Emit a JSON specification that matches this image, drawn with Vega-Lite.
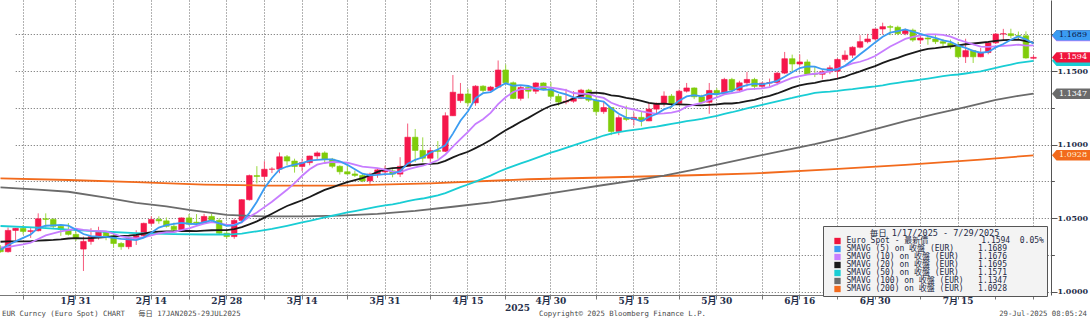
{
"$schema":"https://vega.github.io/schema/vega-lite/v6.json",
"width":1051,"height":295,
"autosize":{"type":"none"},
"padding":{"left":0,"top":0,"right":39,"bottom":23},
"background":"#ffffff",
"config":{"view":{"stroke":null}},
"resolve":{"axis":{"x":"independent","y":"independent"},"legend":{"color":"independent"}},
"datasets":{"eur":[
{"d":"2025-01-17","o":1.0300,"h":1.0316,"l":1.0266,"c":1.0272,"s5":1.02834,"s10":1.03012,"s20":1.03397,"s50":1.0447,"s100":1.0710,"s200":1.0771},
{"d":"2025-01-20","o":1.0272,"h":1.0437,"l":1.0266,"c":1.0417,"s5":1.03178,"s10":1.0304,"s20":1.03424},
{"d":"2025-01-21","o":1.0417,"h":1.0433,"l":1.0345,"c":1.0431,"s5":1.03424,"s10":1.03128,"s20":1.03424},
{"d":"2025-01-22","o":1.0431,"h":1.0454,"l":1.0390,"c":1.0410,"s5":1.0366,"s10":1.03218,"s20":1.03426},
{"d":"2025-01-23","o":1.0410,"h":1.0435,"l":1.0366,"c":1.0415,"s5":1.0389,"s10":1.03333,"s20":1.03433},
{"d":"2025-01-24","o":1.0415,"h":1.0533,"l":1.0410,"c":1.0496,"s5":1.04338,"s10":1.03586,"s20":1.0347,"s50":1.0436,"s100":1.0695},
{"d":"2025-01-27","o":1.0496,"h":1.0533,"l":1.0436,"c":1.0492,"s5":1.04488,"s10":1.03833,"s20":1.03502},
{"d":"2025-01-28","o":1.0492,"h":1.0500,"l":1.0430,"c":1.0445,"s5":1.04516,"s10":1.0397,"s20":1.03522},
{"d":"2025-01-29","o":1.0445,"h":1.0460,"l":1.0380,"c":1.0423,"s5":1.04542,"s10":1.04101,"s20":1.03557},
{"d":"2025-01-30","o":1.0423,"h":1.0467,"l":1.0382,"c":1.0390,"s5":1.04492,"s10":1.04191,"s20":1.03619,"s50":1.0422,"s100":1.0680,"s200":1.0760},
{"d":"2025-01-31","o":1.0390,"h":1.0413,"l":1.0345,"c":1.0362,"s5":1.04224,"s10":1.04281,"s20":1.03647},
{"d":"2025-02-03","o":1.0290,"h":1.0375,"l":1.0141,"c":1.0342,"s5":1.03924,"s10":1.04206,"s20":1.03623},
{"d":"2025-02-04","o":1.0342,"h":1.0432,"l":1.0320,"c":1.0375,"s5":1.03784,"s10":1.0415,"s20":1.03639},
{"d":"2025-02-05","o":1.0375,"h":1.0442,"l":1.0355,"c":1.0405,"s5":1.03748,"s10":1.04145,"s20":1.03682},
{"d":"2025-02-06","o":1.0405,"h":1.0413,"l":1.0350,"c":1.0380,"s5":1.03728,"s10":1.0411,"s20":1.03722,"s50":1.0408,"s100":1.0640},
{"d":"2025-02-07","o":1.0380,"h":1.0412,"l":1.0300,"c":1.0328,"s5":1.0366,"s10":1.03942,"s20":1.03764},
{"d":"2025-02-10","o":1.0328,"h":1.0337,"l":1.0285,"c":1.0306,"s5":1.03588,"s10":1.03756,"s20":1.03795},
{"d":"2025-02-11","o":1.0306,"h":1.0373,"l":1.0289,"c":1.0361,"s5":1.0356,"s10":1.03672,"s20":1.03821},
{"d":"2025-02-12","o":1.0361,"h":1.0418,"l":1.0318,"c":1.0381,"s5":1.03512,"s10":1.0363,"s20":1.03866,"s50":1.0399,"s100":1.0605,"s200":1.0746},
{"d":"2025-02-13","o":1.0381,"h":1.0470,"l":1.0372,"c":1.0465,"s5":1.03682,"s10":1.03705,"s20":1.03948},
{"d":"2025-02-14","o":1.0465,"h":1.0514,"l":1.0450,"c":1.0492,"s5":1.0401,"s10":1.03835,"s20":1.04058},
{"d":"2025-02-17","o":1.0492,"h":1.0513,"l":1.0462,"c":1.0482,"s5":1.04362,"s10":1.03975,"s20":1.04091},
{"d":"2025-02-18","o":1.0482,"h":1.0505,"l":1.0436,"c":1.0445,"s5":1.0453,"s10":1.04045,"s20":1.04098,"s100":1.0580},
{"d":"2025-02-19","o":1.0445,"h":1.0470,"l":1.0402,"c":1.0422,"s5":1.04612,"s10":1.04062,"s20":1.04104,"s50":1.0392},
{"d":"2025-02-20","o":1.0422,"h":1.0505,"l":1.0417,"c":1.0502,"s5":1.04686,"s10":1.04184,"s20":1.04147},
{"d":"2025-02-21","o":1.0502,"h":1.0528,"l":1.0450,"c":1.0460,"s5":1.04622,"s10":1.04316,"s20":1.04129,"s100":1.0556},
{"d":"2025-02-24","o":1.0473,"h":1.0528,"l":1.0455,"c":1.0467,"s5":1.04592,"s10":1.04477,"s20":1.04117},
{"d":"2025-02-25","o":1.0467,"h":1.0530,"l":1.0460,"c":1.0512,"s5":1.04726,"s10":1.04628,"s20":1.0415,"s50":1.0389,"s200":1.0729},
{"d":"2025-02-26","o":1.0512,"h":1.0530,"l":1.0471,"c":1.0485,"s5":1.04852,"s10":1.04732,"s20":1.04181},
{"d":"2025-02-27","o":1.0485,"h":1.0500,"l":1.0392,"c":1.0398,"s5":1.04644,"s10":1.04665,"s20":1.04185},
{"d":"2025-02-28","o":1.0398,"h":1.0420,"l":1.0360,"c":1.0375,"s5":1.04474,"s10":1.04548,"s20":1.04192,"s50":1.03892,"s100":1.0522},
{"d":"2025-03-03","o":1.0375,"h":1.0498,"l":1.0360,"c":1.0485,"s5":1.0451,"s10":1.04551,"s20":1.04263,"s50":1.03916},
{"d":"2025-03-04","o":1.0485,"h":1.0630,"l":1.0465,"c":1.0626,"s5":1.04738,"s10":1.04732,"s20":1.04389,"s50":1.03955},
{"d":"2025-03-05","o":1.0626,"h":1.0797,"l":1.0620,"c":1.0790,"s5":1.05348,"s10":1.051,"s20":1.04581,"s50":1.04032},
{"d":"2025-03-06","o":1.0790,"h":1.0854,"l":1.0736,"c":1.0784,"s5":1.0612,"s10":1.05382,"s20":1.04783,"s50":1.04108},
{"d":"2025-03-07","o":1.0784,"h":1.0888,"l":1.0760,"c":1.0833,"s5":1.07036,"s10":1.05755,"s20":1.05036,"s50":1.04191,"s100":1.0512,"s200":1.0722},
{"d":"2025-03-10","o":1.0833,"h":1.0847,"l":1.0807,"c":1.0834,"s5":1.07734,"s10":1.06122,"s20":1.053,"s50":1.04272},
{"d":"2025-03-11","o":1.0834,"h":1.0947,"l":1.0806,"c":1.0918,"s5":1.08318,"s10":1.06528,"s20":1.05578,"s50":1.04374},
{"d":"2025-03-12","o":1.0918,"h":1.0930,"l":1.0860,"c":1.0889,"s5":1.08516,"s10":1.06932,"s20":1.05832,"s50":1.04481},
{"d":"2025-03-13","o":1.0889,"h":1.0905,"l":1.0810,"c":1.0852,"s5":1.08652,"s10":1.07386,"s20":1.06026,"s50":1.04599},
{"d":"2025-03-14","o":1.0852,"h":1.0906,"l":1.0820,"c":1.0878,"s5":1.08742,"s10":1.07889,"s20":1.06219,"s50":1.04713,"s100":1.0512},
{"d":"2025-03-17","o":1.0878,"h":1.0925,"l":1.0860,"c":1.0923,"s5":1.0892,"s10":1.08327,"s20":1.06439,"s50":1.0482},
{"d":"2025-03-18","o":1.0923,"h":1.0955,"l":1.0895,"c":1.0944,"s5":1.08972,"s10":1.08645,"s20":1.06689,"s50":1.0494},
{"d":"2025-03-19","o":1.0944,"h":1.0955,"l":1.0870,"c":1.0901,"s5":1.08996,"s10":1.08756,"s20":1.06928,"s50":1.05056},
{"d":"2025-03-20","o":1.0901,"h":1.0910,"l":1.0840,"c":1.0853,"s5":1.08998,"s10":1.08825,"s20":1.07104,"s50":1.05167},
{"d":"2025-03-21","o":1.0853,"h":1.0860,"l":1.0797,"c":1.0816,"s5":1.08874,"s10":1.08808,"s20":1.07282,"s50":1.05281,"s100":1.0518,"s200":1.0722},
{"d":"2025-03-24","o":1.0816,"h":1.0860,"l":1.0797,"c":1.0801,"s5":1.0863,"s10":1.08775,"s20":1.07449,"s50":1.05393},
{"d":"2025-03-25","o":1.0801,"h":1.0824,"l":1.0780,"c":1.0791,"s5":1.08324,"s10":1.08648,"s20":1.07588,"s50":1.05489},
{"d":"2025-03-26","o":1.0791,"h":1.0805,"l":1.0745,"c":1.0754,"s5":1.0803,"s10":1.08513,"s20":1.07723,"s50":1.05582},
{"d":"2025-03-27","o":1.0754,"h":1.0810,"l":1.0733,"c":1.0800,"s5":1.07924,"s10":1.08461,"s20":1.07924,"s50":1.05682},
{"d":"2025-03-28","o":1.0800,"h":1.0838,"l":1.0775,"c":1.0829,"s5":1.0795,"s10":1.08412,"s20":1.08151,"s50":1.05793,"s100":1.0530},
{"d":"2025-03-31","o":1.0815,"h":1.0858,"l":1.0790,"c":1.0822,"s5":1.07992,"s10":1.08311,"s20":1.08319,"s50":1.05874},
{"d":"2025-04-01","o":1.0822,"h":1.0833,"l":1.0778,"c":1.0800,"s5":1.0801,"s10":1.08167,"s20":1.08406,"s50":1.05948},
{"d":"2025-04-02","o":1.0800,"h":1.0915,"l":1.0780,"c":1.0853,"s5":1.08208,"s10":1.08119,"s20":1.08438,"s50":1.06036},
{"d":"2025-04-03","o":1.0853,"h":1.1144,"l":1.0850,"c":1.1051,"s5":1.0871,"s10":1.08317,"s20":1.08571,"s50":1.06164},
{"d":"2025-04-04","o":1.1051,"h":1.1107,"l":1.0881,"c":1.0961,"s5":1.08974,"s10":1.08462,"s20":1.08635,"s50":1.06257,"s100":1.0550},
{"d":"2025-04-07","o":1.0961,"h":1.1050,"l":1.0880,"c":1.0908,"s5":1.09146,"s10":1.08569,"s20":1.08672,"s50":1.0634},
{"d":"2025-04-08","o":1.0908,"h":1.0980,"l":1.0880,"c":1.0960,"s5":1.09466,"s10":1.08738,"s20":1.08693,"s50":1.06443,"s200":1.0737},
{"d":"2025-04-09","o":1.0960,"h":1.1025,"l":1.0905,"c":1.0955,"s5":1.0967,"s10":1.08939,"s20":1.08726,"s50":1.06549},
{"d":"2025-04-10","o":1.0955,"h":1.1220,"l":1.0950,"c":1.1197,"s5":1.09962,"s10":1.09336,"s20":1.08899,"s50":1.06711},
{"d":"2025-04-11","o":1.1197,"h":1.1474,"l":1.1195,"c":1.1357,"s5":1.10754,"s10":1.09864,"s20":1.09138,"s50":1.0691,"s100":1.0578},
{"d":"2025-04-14","o":1.1300,"h":1.1420,"l":1.1285,"c":1.1345,"s5":1.11628,"s10":1.10387,"s20":1.09349,"s50":1.0711},
{"d":"2025-04-15","o":1.1345,"h":1.1380,"l":1.1265,"c":1.1285,"s5":1.12278,"s10":1.10872,"s20":1.0952,"s50":1.07292},
{"d":"2025-04-16","o":1.1285,"h":1.1405,"l":1.1265,"c":1.1398,"s5":1.13164,"s10":1.11417,"s20":1.09768,"s50":1.07491},
{"d":"2025-04-17","o":1.1398,"h":1.1405,"l":1.1355,"c":1.1369,"s5":1.13508,"s10":1.11735,"s20":1.10026,"s50":1.07689},
{"d":"2025-04-18","o":1.1369,"h":1.1400,"l":1.1365,"c":1.1392,"s5":1.13578,"s10":1.12166,"s20":1.10314,"s50":1.07901,"s100":1.0608},
{"d":"2025-04-21","o":1.1392,"h":1.1573,"l":1.1385,"c":1.1508,"s5":1.13904,"s10":1.12766,"s20":1.10668,"s50":1.08142},
{"d":"2025-04-22","o":1.1508,"h":1.1545,"l":1.1405,"c":1.1421,"s5":1.14176,"s10":1.13227,"s20":1.10983,"s50":1.08354},
{"d":"2025-04-23","o":1.1421,"h":1.1430,"l":1.1310,"c":1.1315,"s5":1.1401,"s10":1.13587,"s20":1.11263,"s50":1.08541},
{"d":"2025-04-24","o":1.1315,"h":1.1400,"l":1.1300,"c":1.1389,"s5":1.1405,"s10":1.13779,"s20":1.11558,"s50":1.08725},
{"d":"2025-04-25","o":1.1389,"h":1.1395,"l":1.1315,"c":1.1364,"s5":1.13994,"s10":1.13786,"s20":1.11825,"s50":1.089,"s100":1.0646,"s200":1.0765},
{"d":"2025-04-28","o":1.1364,"h":1.1425,"l":1.1345,"c":1.1420,"s5":1.13818,"s10":1.13861,"s20":1.12124,"s50":1.09087},
{"d":"2025-04-29","o":1.1420,"h":1.1425,"l":1.1370,"c":1.1378,"s5":1.13732,"s10":1.13954,"s20":1.12413,"s50":1.09274},
{"d":"2025-04-30","o":1.1378,"h":1.1425,"l":1.1310,"c":1.1329,"s5":1.1376,"s10":1.13885,"s20":1.12651,"s50":1.09455},
{"d":"2025-05-01","o":1.1329,"h":1.1345,"l":1.1265,"c":1.1291,"s5":1.13564,"s10":1.13807,"s20":1.12771,"s50":1.09613},
{"d":"2025-05-02","o":1.1291,"h":1.1380,"l":1.1275,"c":1.1296,"s5":1.13428,"s10":1.13711,"s20":1.12939,"s50":1.0978,"s100":1.0686},
{"d":"2025-05-05","o":1.1296,"h":1.1365,"l":1.1285,"c":1.1315,"s5":1.13218,"s10":1.13518,"s20":1.13142,"s50":1.0995},
{"d":"2025-05-06","o":1.1315,"h":1.1380,"l":1.1310,"c":1.1371,"s5":1.13204,"s10":1.13468,"s20":1.13348,"s50":1.10122},
{"d":"2025-05-07","o":1.1371,"h":1.1380,"l":1.1290,"c":1.1303,"s5":1.13152,"s10":1.13456,"s20":1.13522,"s50":1.10285},
{"d":"2025-05-08","o":1.1303,"h":1.1325,"l":1.1200,"c":1.1225,"s5":1.1302,"s10":1.13292,"s20":1.13536,"s50":1.10451},
{"d":"2025-05-09","o":1.1225,"h":1.1290,"l":1.1210,"c":1.1253,"s5":1.12934,"s10":1.13181,"s20":1.13484,"s50":1.10626,"s100":1.07259,"s200":1.0777},
{"d":"2025-05-12","o":1.1253,"h":1.1255,"l":1.1065,"c":1.1090,"s5":1.12484,"s10":1.12851,"s20":1.13356,"s50":1.10747},
{"d":"2025-05-13","o":1.1090,"h":1.1200,"l":1.1065,"c":1.1184,"s5":1.1211,"s10":1.12657,"s20":1.13306,"s50":1.10859},
{"d":"2025-05-14","o":1.1184,"h":1.1266,"l":1.1160,"c":1.1172,"s5":1.11848,"s10":1.125,"s20":1.13193,"s50":1.10935},
{"d":"2025-05-15","o":1.1172,"h":1.1218,"l":1.1130,"c":1.1186,"s5":1.1177,"s10":1.12395,"s20":1.13101,"s50":1.11016,"s100":1.07562},
{"d":"2025-05-16","o":1.1186,"h":1.1225,"l":1.1125,"c":1.1162,"s5":1.11588,"s10":1.12261,"s20":1.12986,"s50":1.11082},
{"d":"2025-05-19","o":1.1162,"h":1.1288,"l":1.1160,"c":1.1242,"s5":1.11892,"s10":1.12188,"s20":1.12853,"s50":1.11163},
{"d":"2025-05-20","o":1.1242,"h":1.1287,"l":1.1210,"c":1.1281,"s5":1.12086,"s10":1.12098,"s20":1.12783,"s50":1.11236},
{"d":"2025-05-21","o":1.1281,"h":1.1363,"l":1.1260,"c":1.1331,"s5":1.12404,"s10":1.12126,"s20":1.12791,"s50":1.11324,"s100":1.07903},
{"d":"2025-05-22","o":1.1331,"h":1.1345,"l":1.1250,"c":1.1281,"s5":1.12594,"s10":1.12182,"s20":1.12737,"s50":1.1141},
{"d":"2025-05-23","o":1.1281,"h":1.1375,"l":1.1275,"c":1.1364,"s5":1.12998,"s10":1.12293,"s20":1.12737,"s50":1.11507},
{"d":"2025-05-26","o":1.1364,"h":1.1420,"l":1.1355,"c":1.1386,"s5":1.13286,"s10":1.12589,"s20":1.1272,"s50":1.116},
{"d":"2025-05-27","o":1.1386,"h":1.1390,"l":1.1310,"c":1.1326,"s5":1.13376,"s10":1.12731,"s20":1.12694,"s50":1.11676,"s100":1.08308},
{"d":"2025-05-28","o":1.1326,"h":1.1340,"l":1.1280,"c":1.1289,"s5":1.13292,"s10":1.12848,"s20":1.12674,"s50":1.11754,"s200":1.0794},
{"d":"2025-05-29","o":1.1289,"h":1.1420,"l":1.1210,"c":1.1369,"s5":1.13468,"s10":1.13031,"s20":1.12713,"s50":1.11857},
{"d":"2025-05-30","o":1.1369,"h":1.1385,"l":1.1320,"c":1.1347,"s5":1.13434,"s10":1.13216,"s20":1.12739,"s50":1.11963},
{"d":"2025-06-02","o":1.1347,"h":1.1455,"l":1.1345,"c":1.1444,"s5":1.1355,"s10":1.13418,"s20":1.12803,"s50":1.12092,"s100":1.08742},
{"d":"2025-06-03","o":1.1444,"h":1.1455,"l":1.1355,"c":1.1371,"s5":1.1364,"s10":1.13508,"s20":1.12803,"s50":1.12208},
{"d":"2025-06-04","o":1.1371,"h":1.1435,"l":1.1360,"c":1.1421,"s5":1.13904,"s10":1.13598,"s20":1.12862,"s50":1.12341},
{"d":"2025-06-05","o":1.1421,"h":1.1495,"l":1.1395,"c":1.1444,"s5":1.14054,"s10":1.13761,"s20":1.12972,"s50":1.1247},
{"d":"2025-06-06","o":1.1444,"h":1.1455,"l":1.1375,"c":1.1397,"s5":1.14154,"s10":1.13794,"s20":1.13044,"s50":1.12584,"s100":1.09188,"s200":1.0805},
{"d":"2025-06-09","o":1.1397,"h":1.1425,"l":1.1380,"c":1.1419,"s5":1.14104,"s10":1.13827,"s20":1.13208,"s50":1.12703},
{"d":"2025-06-10","o":1.1419,"h":1.1450,"l":1.1395,"c":1.1423,"s5":1.14208,"s10":1.13924,"s20":1.13328,"s50":1.12828},
{"d":"2025-06-11","o":1.1423,"h":1.1495,"l":1.1405,"c":1.1487,"s5":1.1434,"s10":1.14122,"s20":1.13485,"s50":1.12954},
{"d":"2025-06-12","o":1.1487,"h":1.1631,"l":1.1480,"c":1.1585,"s5":1.14622,"s10":1.14338,"s20":1.13685,"s50":1.13061,"s100":1.09612},
{"d":"2025-06-13","o":1.1585,"h":1.1613,"l":1.1490,"c":1.1549,"s5":1.14926,"s10":1.1454,"s20":1.13878,"s50":1.13179},
{"d":"2025-06-16","o":1.1549,"h":1.1614,"l":1.1535,"c":1.1563,"s5":1.15214,"s10":1.14659,"s20":1.14039,"s50":1.1331},
{"d":"2025-06-17","o":1.1563,"h":1.1580,"l":1.1475,"c":1.1480,"s5":1.15328,"s10":1.14768,"s20":1.14138,"s50":1.13414},
{"d":"2025-06-18","o":1.1480,"h":1.1530,"l":1.1460,"c":1.1479,"s5":1.15312,"s10":1.14826,"s20":1.14212,"s50":1.13519,"s100":1.10034},
{"d":"2025-06-19","o":1.1479,"h":1.1510,"l":1.1445,"c":1.1496,"s5":1.15134,"s10":1.14878,"s20":1.1432,"s50":1.13578},
{"d":"2025-06-20","o":1.1496,"h":1.1540,"l":1.1480,"c":1.1523,"s5":1.15082,"s10":1.15004,"s20":1.14399,"s50":1.13612,"s200":1.0832},
{"d":"2025-06-23","o":1.1500,"h":1.1590,"l":1.1452,"c":1.1580,"s5":1.15116,"s10":1.15165,"s20":1.14496,"s50":1.13659},
{"d":"2025-06-24","o":1.1580,"h":1.1641,"l":1.1565,"c":1.1609,"s5":1.15374,"s10":1.15351,"s20":1.14638,"s50":1.13723,"s100":1.10508},
{"d":"2025-06-25","o":1.1609,"h":1.1670,"l":1.1590,"c":1.1663,"s5":1.15742,"s10":1.15527,"s20":1.14825,"s50":1.13776},
{"d":"2025-06-26","o":1.1663,"h":1.1745,"l":1.1655,"c":1.1701,"s5":1.16152,"s10":1.15643,"s20":1.14991,"s50":1.13843},
{"d":"2025-06-27","o":1.1701,"h":1.1754,"l":1.1690,"c":1.1719,"s5":1.16544,"s10":1.15813,"s20":1.15177,"s50":1.13908},
{"d":"2025-06-30","o":1.1719,"h":1.1789,"l":1.1710,"c":1.1787,"s5":1.16958,"s10":1.16037,"s20":1.15348,"s50":1.13964,"s100":1.11053},
{"d":"2025-07-01","o":1.1787,"h":1.1830,"l":1.1750,"c":1.1803,"s5":1.17346,"s10":1.1636,"s20":1.15564,"s50":1.1404},
{"d":"2025-07-02","o":1.1803,"h":1.1815,"l":1.1745,"c":1.1799,"s5":1.17618,"s10":1.1668,"s20":1.15753,"s50":1.14137},
{"d":"2025-07-03","o":1.1799,"h":1.1810,"l":1.1745,"c":1.1756,"s5":1.17728,"s10":1.1694,"s20":1.15909,"s50":1.14211},
{"d":"2025-07-04","o":1.1756,"h":1.1790,"l":1.1745,"c":1.1779,"s5":1.17848,"s10":1.17196,"s20":1.161,"s50":1.14294,"s100":1.11597,"s200":1.0863},
{"d":"2025-07-07","o":1.1779,"h":1.1790,"l":1.1700,"c":1.1712,"s5":1.17698,"s10":1.17328,"s20":1.16247,"s50":1.14352},
{"d":"2025-07-08","o":1.1712,"h":1.1760,"l":1.1685,"c":1.1726,"s5":1.17544,"s10":1.17445,"s20":1.16398,"s50":1.14422},
{"d":"2025-07-09","o":1.1726,"h":1.1744,"l":1.1680,"c":1.1719,"s5":1.17384,"s10":1.17501,"s20":1.16514,"s50":1.145},
{"d":"2025-07-10","o":1.1719,"h":1.1750,"l":1.1685,"c":1.1701,"s5":1.17274,"s10":1.17501,"s20":1.16572,"s50":1.14582,"s100":1.12097},
{"d":"2025-07-11","o":1.1701,"h":1.1720,"l":1.1665,"c":1.1690,"s5":1.17096,"s10":1.17472,"s20":1.16643,"s50":1.1466},
{"d":"2025-07-14","o":1.1690,"h":1.1715,"l":1.1650,"c":1.1665,"s5":1.17002,"s10":1.1735,"s20":1.16694,"s50":1.1473},
{"d":"2025-07-15","o":1.1665,"h":1.1700,"l":1.1590,"c":1.1598,"s5":1.16746,"s10":1.17145,"s20":1.16753,"s50":1.14776},
{"d":"2025-07-16","o":1.1598,"h":1.1721,"l":1.1556,"c":1.1640,"s5":1.16588,"s10":1.16986,"s20":1.16833,"s50":1.14843,"s100":1.12564},
{"d":"2025-07-17","o":1.1640,"h":1.1645,"l":1.1556,"c":1.1598,"s5":1.16382,"s10":1.16828,"s20":1.16884,"s50":1.14918},
{"d":"2025-07-18","o":1.1598,"h":1.1658,"l":1.1595,"c":1.1627,"s5":1.16256,"s10":1.16676,"s20":1.16936,"s50":1.14993,"s200":1.0899},
{"d":"2025-07-21","o":1.1627,"h":1.1703,"l":1.1615,"c":1.1693,"s5":1.16312,"s10":1.16657,"s20":1.16993,"s50":1.15113},
{"d":"2025-07-22","o":1.1693,"h":1.1760,"l":1.1685,"c":1.1753,"s5":1.16622,"s10":1.16684,"s20":1.17065,"s50":1.15227,"s100":1.13043},
{"d":"2025-07-23","o":1.1753,"h":1.1788,"l":1.1710,"c":1.1755,"s5":1.16852,"s10":1.1672,"s20":1.17111,"s50":1.15344},
{"d":"2025-07-24","o":1.1755,"h":1.1789,"l":1.1725,"c":1.1742,"s5":1.1714,"s10":1.16761,"s20":1.17131,"s50":1.15455},
{"d":"2025-07-25","o":1.1742,"h":1.1770,"l":1.1715,"c":1.1741,"s5":1.17368,"s10":1.16812,"s20":1.17142,"s50":1.15571,"s100":1.13326},
{"d":"2025-07-28","o":1.1741,"h":1.1771,"l":1.1585,"c":1.1590,"s5":1.17162,"s10":1.16737,"s20":1.17044,"s50":1.1564},
{"d":"2025-07-29","o":1.1588,"h":1.1610,"l":1.1580,"c":1.1594,"s5":1.1689,"s10":1.1676,"s20":1.1695,"s50":1.1571,"s100":1.1347,"s200":1.0928}
]},
"data":{"name":"eur"},
"layer":[
{"mark":{"type":"rule","strokeWidth":1},
 "encoding":{
  "x":{"field":"d","type":"ordinal","scale":{"type":"band","range":[-3.27,1037.25],"paddingInner":0,"paddingOuter":0},
   "axis":{"values":["2025-01-22","2025-01-31","2025-02-07","2025-02-14","2025-02-21","2025-02-28","2025-03-07","2025-03-14","2025-03-24","2025-03-31","2025-04-08","2025-04-15","2025-04-22","2025-04-30","2025-05-08","2025-05-15","2025-05-23","2025-05-30","2025-06-09","2025-06-16","2025-06-23","2025-06-30","2025-07-08","2025-07-15","2025-07-22","2025-07-29"],
    "labelExpr":"indexof(['2025-01-31','2025-02-14','2025-02-28','2025-03-14','2025-03-31','2025-04-15','2025-04-30','2025-05-15','2025-05-30','2025-06-16','2025-06-30','2025-07-15'], datum.value) >= 0 ? toNumber(substring(datum.value, 5, 7)) + '月 ' + substring(datum.value, 8, 10) : ''",
    "bandPosition":0.5,"labelAngle":0,"labelOverlap":false,
    "grid":true,"gridDash":[1,2],"gridColor":"#666666","gridWidth":1,
    "domainColor":"#777777","tickColor":"#777777","tickSize":4,
    "labelFont":"DejaVu Serif, Noto Sans CJK JP","labelFontSize":9,"labelFontWeight":"bold","labelColor":"#27304a","labelPadding":-3,"labelDx":-2,
    "title":"2025","titleFont":"DejaVu Serif","titleFontSize":9,"titleFontWeight":"bold","titleColor":"#27304a","titlePadding":-2}},
  "y":{"field":"h","type":"quantitative","scale":{"domain":[0.99776,1.19844],"nice":false,"zero":false},
   "axis":{"orient":"right","values":[1.0,1.025,1.05,1.075,1.1,1.125,1.15,1.175],
    "labelExpr":"abs(datum.value*20 - round(datum.value*20)) < 0.001 ? format(datum.value, '.4f') : ''",
    "grid":true,"gridDash":[1,2],"gridColor":"#666666","gridWidth":1,
    "domainColor":"#555555","tickColor":"#555555",
    "tickSize":{"condition":{"test":"abs(datum.value*20 - round(datum.value*20)) < 0.001","value":6},"value":3},
    "labelFont":"DejaVu Serif","labelFontSize":8,"labelFontWeight":"bold","labelColor":"#27304a","labelPadding":0,"title":null}},
  "y2":{"field":"l"},
  "color":{"condition":{"test":"datum.c >= datum.o","value":"#f65a7c"},"value":"#9ad93f"}
 }},
{"mark":{"type":"bar","width":{"band":0.74},"strokeWidth":0.6},
 "encoding":{
  "x":{"field":"d","type":"ordinal","axis":null},
  "y":{"field":"o","type":"quantitative","axis":null},
  "y2":{"field":"c"},
  "fill":{"condition":{"test":"datum.c >= datum.o","value":"#f5174b"},"value":"#80cc0a"},
  "stroke":{"condition":{"test":"datum.c >= datum.o","value":"#f5174b"},"value":"#80cc0a"}
 }},
{"transform":[{"fold":["s200","s100","s50","s20","s10","s5"],"as":["key","value"]}],
 "mark":{"type":"line","strokeWidth":1.8,"invalid":"filter"},
 "encoding":{
  "x":{"field":"d","type":"ordinal","axis":null},
  "y":{"field":"value","type":"quantitative","axis":null},
  "color":{"field":"key","type":"nominal","scale":{"domain":["c","s5","s10","s20","s50","s100","s200"],"range":["#f0143c","#3b9cf2","#c77dff","#1a1a1a","#19cdd4","#6b6b6b","#f26a1c"]},"legend":null}
 }},
{"transform":[{"filter":"datum.d == '2025-07-29'"},{"fold":["s200","s100","s50","c","s20","s10","s5"],"as":["key","value"]}],
 "mark":{"type":"point","shape":"M -1.9 0 L -1.45 -0.52 L 1.9 -0.52 L 1.9 0.52 L -1.45 0.52 Z","size":400,"filled":true,"opacity":1,"strokeWidth":0,
  "x":{"expr":"width + 20"},
  "yOffset":{"expr":"datum.key == 's5' ? -8 : datum.key == 's10' ? -9.4 : datum.key == 's20' ? -7 : 0"}},
 "encoding":{
  "y":{"field":"value","type":"quantitative","axis":null},
  "color":{"field":"key","type":"nominal",
   "legend":{"orient":"none","legendX":823,"legendY":226,
    "title":"毎日 1/17/2025 - 7/29/2025",
    "titleFont":"DejaVu Sans Mono, Noto Sans CJK JP","titleFontSize":8.5,"titleFontWeight":"normal","titleColor":"#1e2a44","titleAnchor":"middle","titleAlign":"center","titlePadding":0,
    "labelFont":"DejaVu Sans Mono, Noto Sans CJK JP","labelFontSize":8,"labelColor":"#1e2a44","labelLimit":400,"labelOffset":5,
    "labelExpr":"{'c':'Euro Spot - 最新價\u00a0\u00a0\u00a0\u00a0\u00a0\u00a0\u00a0\u00a0\u00a0\u00a0\u00a01.1594\u00a0\u00a00.05%','s5':'SMAVG (5) on 收盤 (EUR)\u00a0\u00a0\u00a0\u00a0\u00a01.1689','s10':'SMAVG (10) on 收盤 (EUR)\u00a0\u00a0\u00a0\u00a01.1676','s20':'SMAVG (20) on 收盤 (EUR)\u00a0\u00a0\u00a0\u00a01.1695','s50':'SMAVG (50) on 收盤 (EUR)\u00a0\u00a0\u00a0\u00a01.1571','s100':'SMAVG (100) on 收盤 (EUR)\u00a0\u00a0\u00a01.1347','s200':'SMAVG (200) on 收盤 (EUR)\u00a0\u00a0\u00a01.0928'}[datum.value]",
    "symbolType":"square","symbolSize":40,"symbolOffset":8,"symbolStrokeWidth":0,
    "rowPadding":-1,"padding":2.5,
    "fillColor":"#f3f3f3","strokeColor":"#555555",
    "encode":{"symbols":{"update":{"shape":{"value":"square"}}}}}}
 }},
{"transform":[{"filter":"datum.d == '2025-07-29'"},{"fold":["s200","s100","c","s5"],"as":["key","value"]}],
 "mark":{"type":"text","font":"DejaVu Serif","fontSize":8,"align":"center","baseline":"middle",
  "x":{"expr":"width + 22"},
  "yOffset":{"expr":"datum.key == 's5' ? -8 : 0"},
  "fill":{"expr":"datum.key == 's5' ? '#0d1a4a' : datum.key == 's200' ? '#fff2d6' : '#ffffff'"}},
 "encoding":{
  "y":{"field":"value","type":"quantitative","axis":null},
  "text":{"field":"value","type":"quantitative","format":".4f"}
 }},
{"data":{"values":[{}]},
 "mark":{"type":"text","x":2,"y":{"expr":"height + 19"},"align":"left","baseline":"middle","font":"DejaVu Sans Mono, Noto Sans CJK JP","fontSize":7.3,"fill":"#4a4a4a","text":"EUR Curncy (Euro Spot) CHART\u00a0\u00a0\u00a0毎日 17JAN2025-29JUL2025"},
 "encoding":{}},
{"data":{"values":[{}]},
 "mark":{"type":"text","x":539,"y":{"expr":"height + 19"},"align":"left","baseline":"middle","font":"DejaVu Sans Mono","fontSize":7.3,"fill":"#4a4a4a","text":"Copyright© 2025 Bloomberg Finance L.P."},
 "encoding":{}},
{"data":{"values":[{}]},
 "mark":{"type":"text","x":{"expr":"width + 36"},"y":{"expr":"height + 19"},"align":"right","baseline":"middle","font":"DejaVu Sans Mono","fontSize":7.3,"fill":"#4a4a4a","text":"29-Jul-2025 08:05:24"},
 "encoding":{}}
]
}
